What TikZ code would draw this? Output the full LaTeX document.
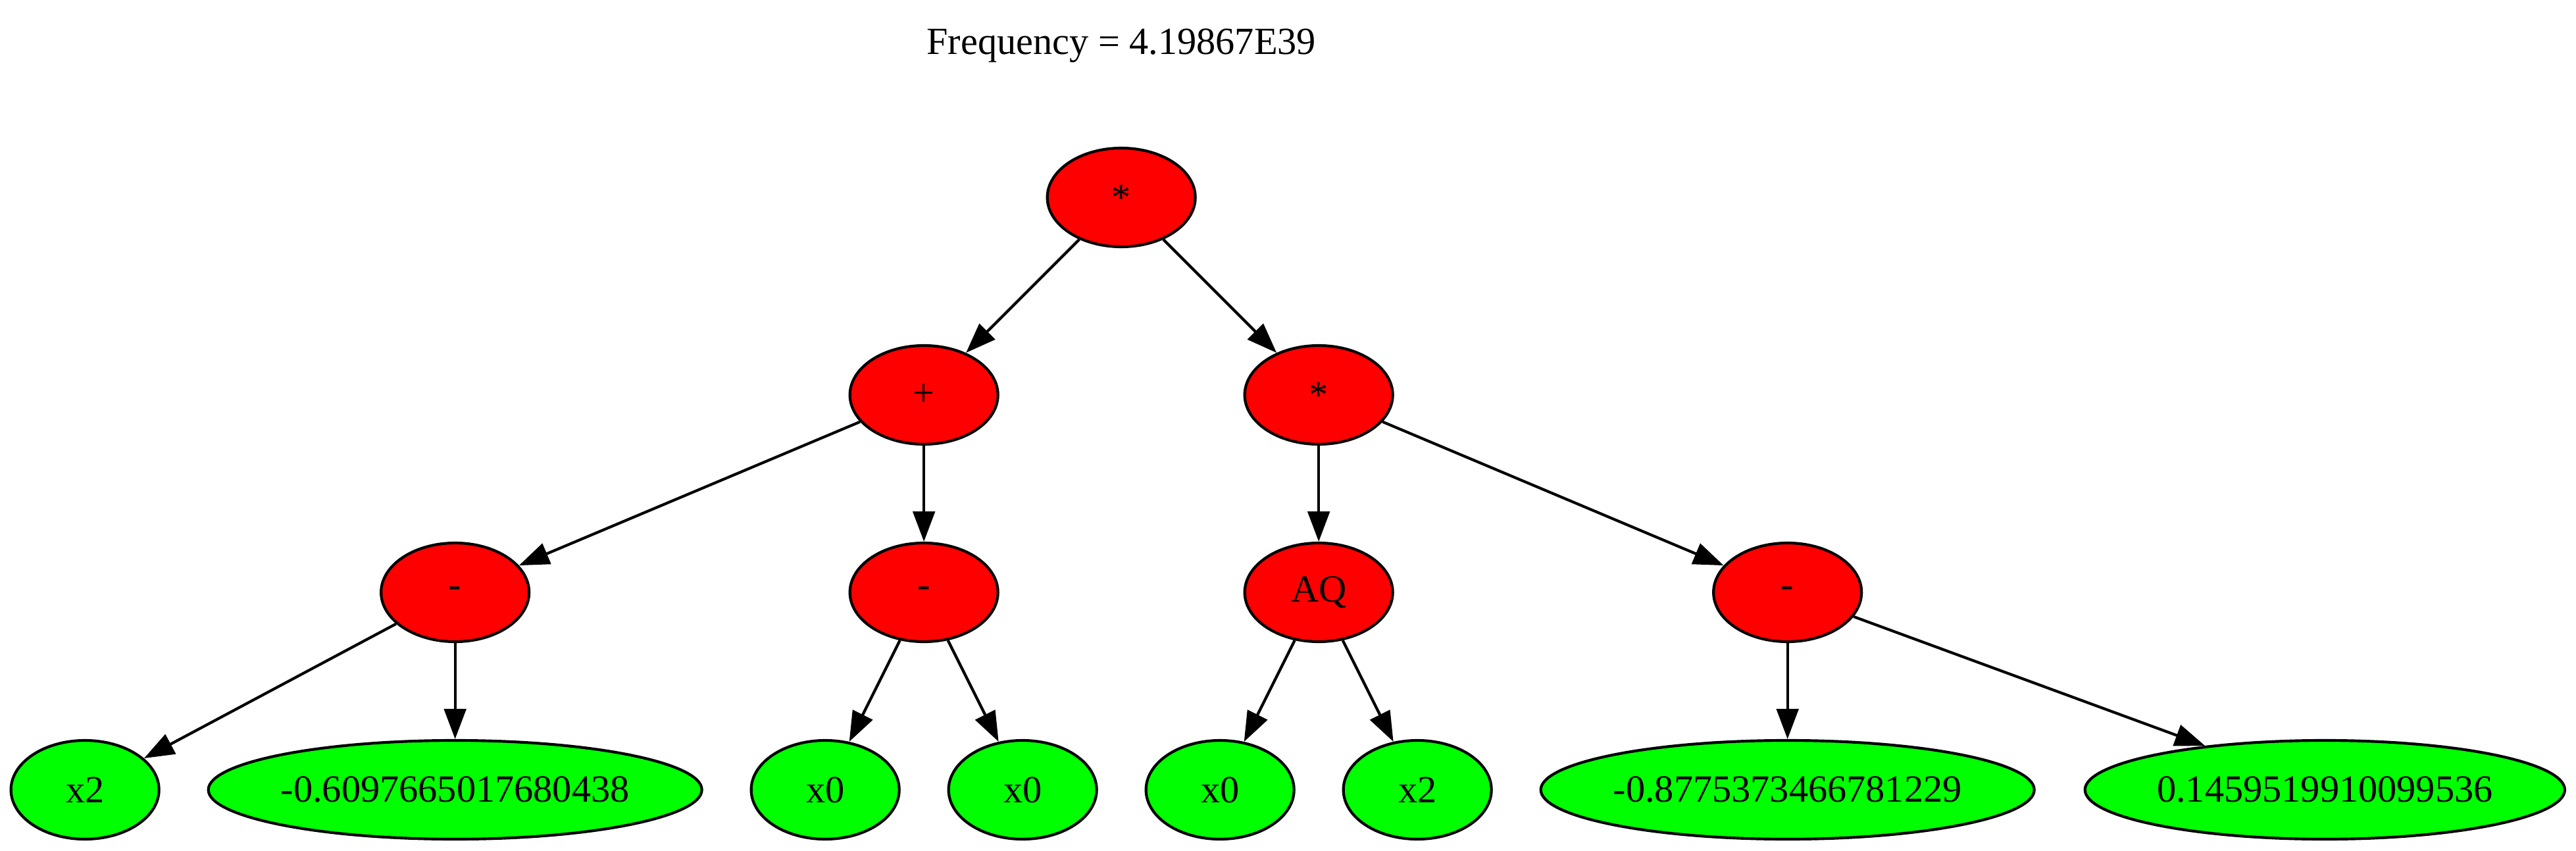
\documentclass[tikz,border=0pt]{standalone}
\usepackage{fontspec}
\setmainfont{Liberation Serif}
\usetikzlibrary{shapes.geometric,arrows.meta}
\begin{document}
\begin{tikzpicture}[x=1pt,y=-1pt,
  font=\fontsize{14}{16.8}\selectfont,
  opnode/.style={ellipse,draw=black,line width=1pt,fill={rgb,255:red,255;green,0;blue,0},minimum width=54pt,minimum height=36pt,inner sep=0pt},
  leafnode/.style={ellipse,draw=black,line width=1pt,fill={rgb,255:red,0;green,255;blue,0},minimum width=54pt,minimum height=36pt,inner sep=0pt},
  edge/.style={line width=1pt,-{Triangle[length=11pt,width=8pt]}}]
\useasboundingbox (0,0) rectangle (939.6,310.1);
\node[anchor=base] (title) at (409,19.8) {Frequency = 4.19867E39};
% rank 1
\node[opnode] (root) at (409,72) {*};
% rank 2
\node[opnode] (plus) at (337,144) {+};
\node[opnode] (mulR) at (481,144) {*};
% rank 3
\node[opnode] (minL) at (166,216) {-};
\node[opnode] (minM) at (337,216) {-};
\node[opnode] (aq) at (481,216) {AQ};
\node[opnode] (minR) at (652,216) {-};
% leaves
\node[leafnode] (l1) at (31,288) {x2};
\node[leafnode,minimum width=180pt] (l2) at (166,288) {-0.6097665017680438};
\node[leafnode] (l3) at (301,288) {x0};
\node[leafnode] (l4) at (373,288) {x0};
\node[leafnode] (l5) at (445,288) {x0};
\node[leafnode] (l6) at (517,288) {x2};
\node[leafnode,minimum width=180pt] (l7) at (652,288) {-0.8775373466781229};
\node[leafnode,minimum width=175pt] (l8) at (848,288) {0.1459519910099536};
% edges
\draw[edge] (root) -- (plus);
\draw[edge] (root) -- (mulR);
\draw[edge] (plus) -- (minL);
\draw[edge] (plus) -- (minM);
\draw[edge] (mulR) -- (aq);
\draw[edge] (mulR) -- (minR);
\draw[edge] (minL) -- (l1);
\draw[edge] (minL) -- (l2);
\draw[edge] (minM) -- (l3);
\draw[edge] (minM) -- (l4);
\draw[edge] (aq) -- (l5);
\draw[edge] (aq) -- (l6);
\draw[edge] (minR) -- (l7);
\draw[edge] (minR) -- (l8);
\end{tikzpicture}
\end{document}
